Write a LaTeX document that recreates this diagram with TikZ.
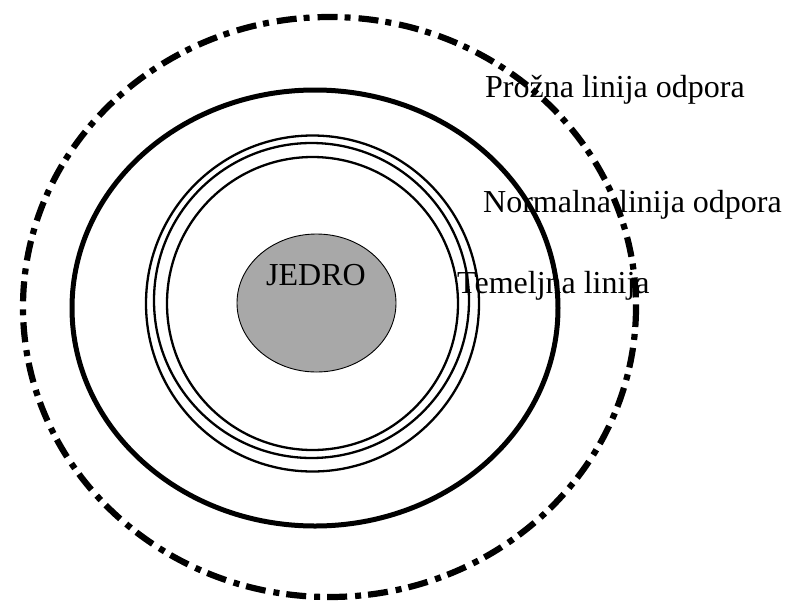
\documentclass[tikz,border=0pt]{standalone}
\usepackage{fontspec}
\setmainfont{Liberation Serif}
\tikzset{
  lbl/.style={inner sep=0pt, anchor=base west, font=\fontsize{32}{36}\selectfont},
  outerline/.style={line width=6.2pt, dash pattern=on 20pt off 7pt on 6pt off 8pt},
  thickline/.style={line width=5pt},
  thinline/.style={line width=2.3pt},
  nucleus/.style={fill=black!34, draw=black, line width=0.9pt}
}
\begin{document}
\begin{tikzpicture}[x=1pt,y=-1pt]
\useasboundingbox (0,0) rectangle (788,603);
% nucleus
\draw[nucleus] (316.5,303) ellipse [x radius=79.5, y radius=69];
\node[inner sep=0pt, anchor=base, font=\fontsize{32}{36}\selectfont] (jedro) at (316,285) {JEDRO};
% labels
\node[lbl] (prozna) at (485,97) {Prožna linija odpora};
\node[lbl] (normalna) at (483,212) {Normalna linija odpora};
\node[lbl] (temeljna) at (457,293) {Temeljna linija};
% triple thin ellipses
\draw[thinline] (312.5,303.5) ellipse [x radius=166.5, y radius=168];
\draw[thinline] (311.5,300.5) ellipse [x radius=157.5, y radius=157.5];
\draw[thinline] (312.5,303.5) ellipse [x radius=145.5, y radius=146.5];
% thick ellipse
\draw[thickline] (315,308) ellipse [x radius=243, y radius=218];
% outer dash-dot ellipse
\draw[outerline] (329.5,307) ellipse [x radius=306.5, y radius=290];
\end{tikzpicture}
\end{document}
